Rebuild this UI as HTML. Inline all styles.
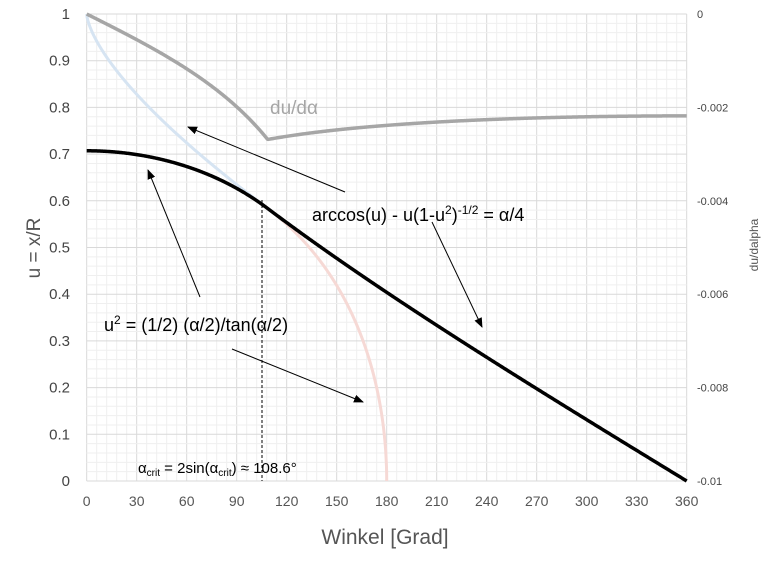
<!DOCTYPE html>
<html><head><meta charset="utf-8"><style>
body{margin:0;background:#fff;}
svg{display:block;font-family:"Liberation Sans",Calibri,sans-serif;}
</style></head><body>
<svg id="s" width="770" height="567" xmlns="http://www.w3.org/2000/svg">
<defs><marker id="ah" markerWidth="10" markerHeight="8" refX="9" refY="4" orient="auto" markerUnits="userSpaceOnUse"><path d="M0,0 L10,4 L0,8 z" fill="#000"/></marker></defs>
<g id="grid"></g>
<g id="lines"></g>
<g font-size="15" fill="#444" text-anchor="end" id="yl"></g>
<g font-size="11" fill="#444" text-anchor="start" id="yr"></g>
<g font-size="14" fill="#555" text-anchor="middle" id="xl"></g>
<text x="385" y="544" font-size="21" fill="#555" text-anchor="middle">Winkel [Grad]</text>
<text transform="translate(40,248) rotate(-90)" font-size="19" fill="#555" text-anchor="middle">u = x/R</text>
<text transform="translate(758,245) rotate(-90)" font-size="12" fill="#555" text-anchor="middle">du/dalpha</text>
<text x="270" y="114" font-size="19" fill="#a6a6a6">du/dα</text>
<text x="312" y="221" font-size="18" fill="#000">arccos(u) - u(1-u<tspan font-size="12" dy="-7">2</tspan><tspan dy="7">)</tspan><tspan font-size="12" dy="-7">-1/2</tspan><tspan dy="7"> = α/4</tspan></text>
<text x="104" y="331" font-size="18" fill="#000">u<tspan font-size="12" dy="-7">2</tspan><tspan dy="7"> = (1/2) (α/2)/tan(α/2)</tspan></text>
<text x="138" y="473" font-size="15" fill="#000">α<tspan font-size="10" dy="3">crit</tspan><tspan dy="-3"> = 2sin(α</tspan><tspan font-size="10" dy="3">crit</tspan><tspan dy="-3">) ≈ 108.6°</tspan></text>
<g stroke="#000" stroke-width="1" marker-end="url(#ah)">
<line x1="345" y1="192" x2="188" y2="127"/>
<line x1="432" y1="222" x2="482" y2="327"/>
<line x1="200" y1="297" x2="148" y2="170"/>
<line x1="232" y1="349" x2="363" y2="402"/>
</g>
</svg>
<script>
const X0=86.7,XS=50/30,Y0=481,YT=14,H=Y0-YT;
const px=a=>X0+a*XS, py=u=>Y0-u*H, pr=d=>YT+(-d/0.01)*H;
const g=document.getElementById('grid');let s='';
for(let a=0;a<=360;a+=6){const maj=a%30==0;s+=`<line x1="${px(a)}" y1="${YT}" x2="${px(a)}" y2="${Y0}" stroke="${maj?'#d9d9d9':'#efefef'}" stroke-width="1"/>`;}
for(let i=0;i<=50;i++){const u=i/50,maj=i%5==0;s+=`<line x1="${X0}" y1="${py(u)}" x2="${px(360)}" y2="${py(u)}" stroke="${maj?'#d9d9d9':'#efefef'}" stroke-width="1"/>`;}
g.innerHTML=s;
let yl='',yr='',xl='';
for(let i=0;i<=10;i++){const u=i/10;yl+=`<text x="70" y="${py(u)+5}">${i==10?'1':i==0?'0':u.toFixed(1)}</text>`;}
for(let i=0;i<=5;i++){const d=-0.002*i;yr+=`<text x="697" y="${pr(d)+4}">${i==0?'0':(i==5?'-0.01':d.toFixed(3))}</text>`;}
for(let a=0;a<=360;a+=30)xl+=`<text x="${px(a)}" y="506">${a}</text>`;
document.getElementById('yl').innerHTML=yl;document.getElementById('yr').innerHTML=yr;document.getElementById('xl').innerHTML=xl;
const r=Math.PI/180;
function f1(a){if(a<1e-6)return Math.SQRT1_2;if(a>=180)return 0;const x=a*r/2;const v=0.5*x/Math.tan(x);return v>0?Math.sqrt(v):0;}
function f2(a){if(a>=360)return 0;const t=a*r/4;let lo=0,hi=1;for(let k=0;k<60;k++){const m=(lo+hi)/2;const v=Math.acos(m)-m*Math.sqrt(1-m*m);if(v>t)lo=m;else hi=m;}return (lo+hi)/2;}
const AC=108.6;
function path(fn,a0,a1,yf){let d='';for(let a=a0;a<=a1+1e-9;a+=0.25){d+=(d?'L':'M')+px(a).toFixed(2)+','+yf(fn(a)).toFixed(2);}
 for(let k=1;k<=20;k++){const a=a1-0.25+0.25*k/20; if(a1==180)d+='L'+px(a).toFixed(2)+','+yf(fn(a)).toFixed(2);}
 return d;}
let L='';
L+=`<path d="${path(f1,AC-2,180,py)}" fill="none" stroke="#f6d9d5" stroke-width="3"/>`;
L+=`<path d="${path(f2,0,AC+2,py)}" fill="none" stroke="#d6e4f2" stroke-width="3"/>`;
const h=0.05;
const du=a=>{const fn=a<AC?f1:f2;const lo=Math.max(0,a-h),hi=Math.min(359.99,a+h);return (fn(hi)-fn(lo))/(hi-lo);};
let d='';for(let a=0;a<=360;a+=0.5){const v=a>=359.9?du(359.8):du(a);d+=(d?'L':'M')+px(a).toFixed(2)+','+pr(v).toFixed(2);}
L+=`<path d="${d}" fill="none" stroke="#a6a6a6" stroke-width="3.5" stroke-linejoin="round"/>`;
d='';for(let a=0;a<=360;a+=0.5){const u=a<AC?f1(a):f2(a);d+=(d?'L':'M')+px(a).toFixed(2)+','+py(u).toFixed(2);}
L+=`<path d="${d}" fill="none" stroke="#000" stroke-width="3.5" stroke-linejoin="round"/>`;
L+=`<line x1="262" y1="200" x2="262" y2="${Y0}" stroke="#000" stroke-width="1" stroke-dasharray="3,2"/>`;
document.getElementById('lines').innerHTML=L;
</script>
</body></html>
